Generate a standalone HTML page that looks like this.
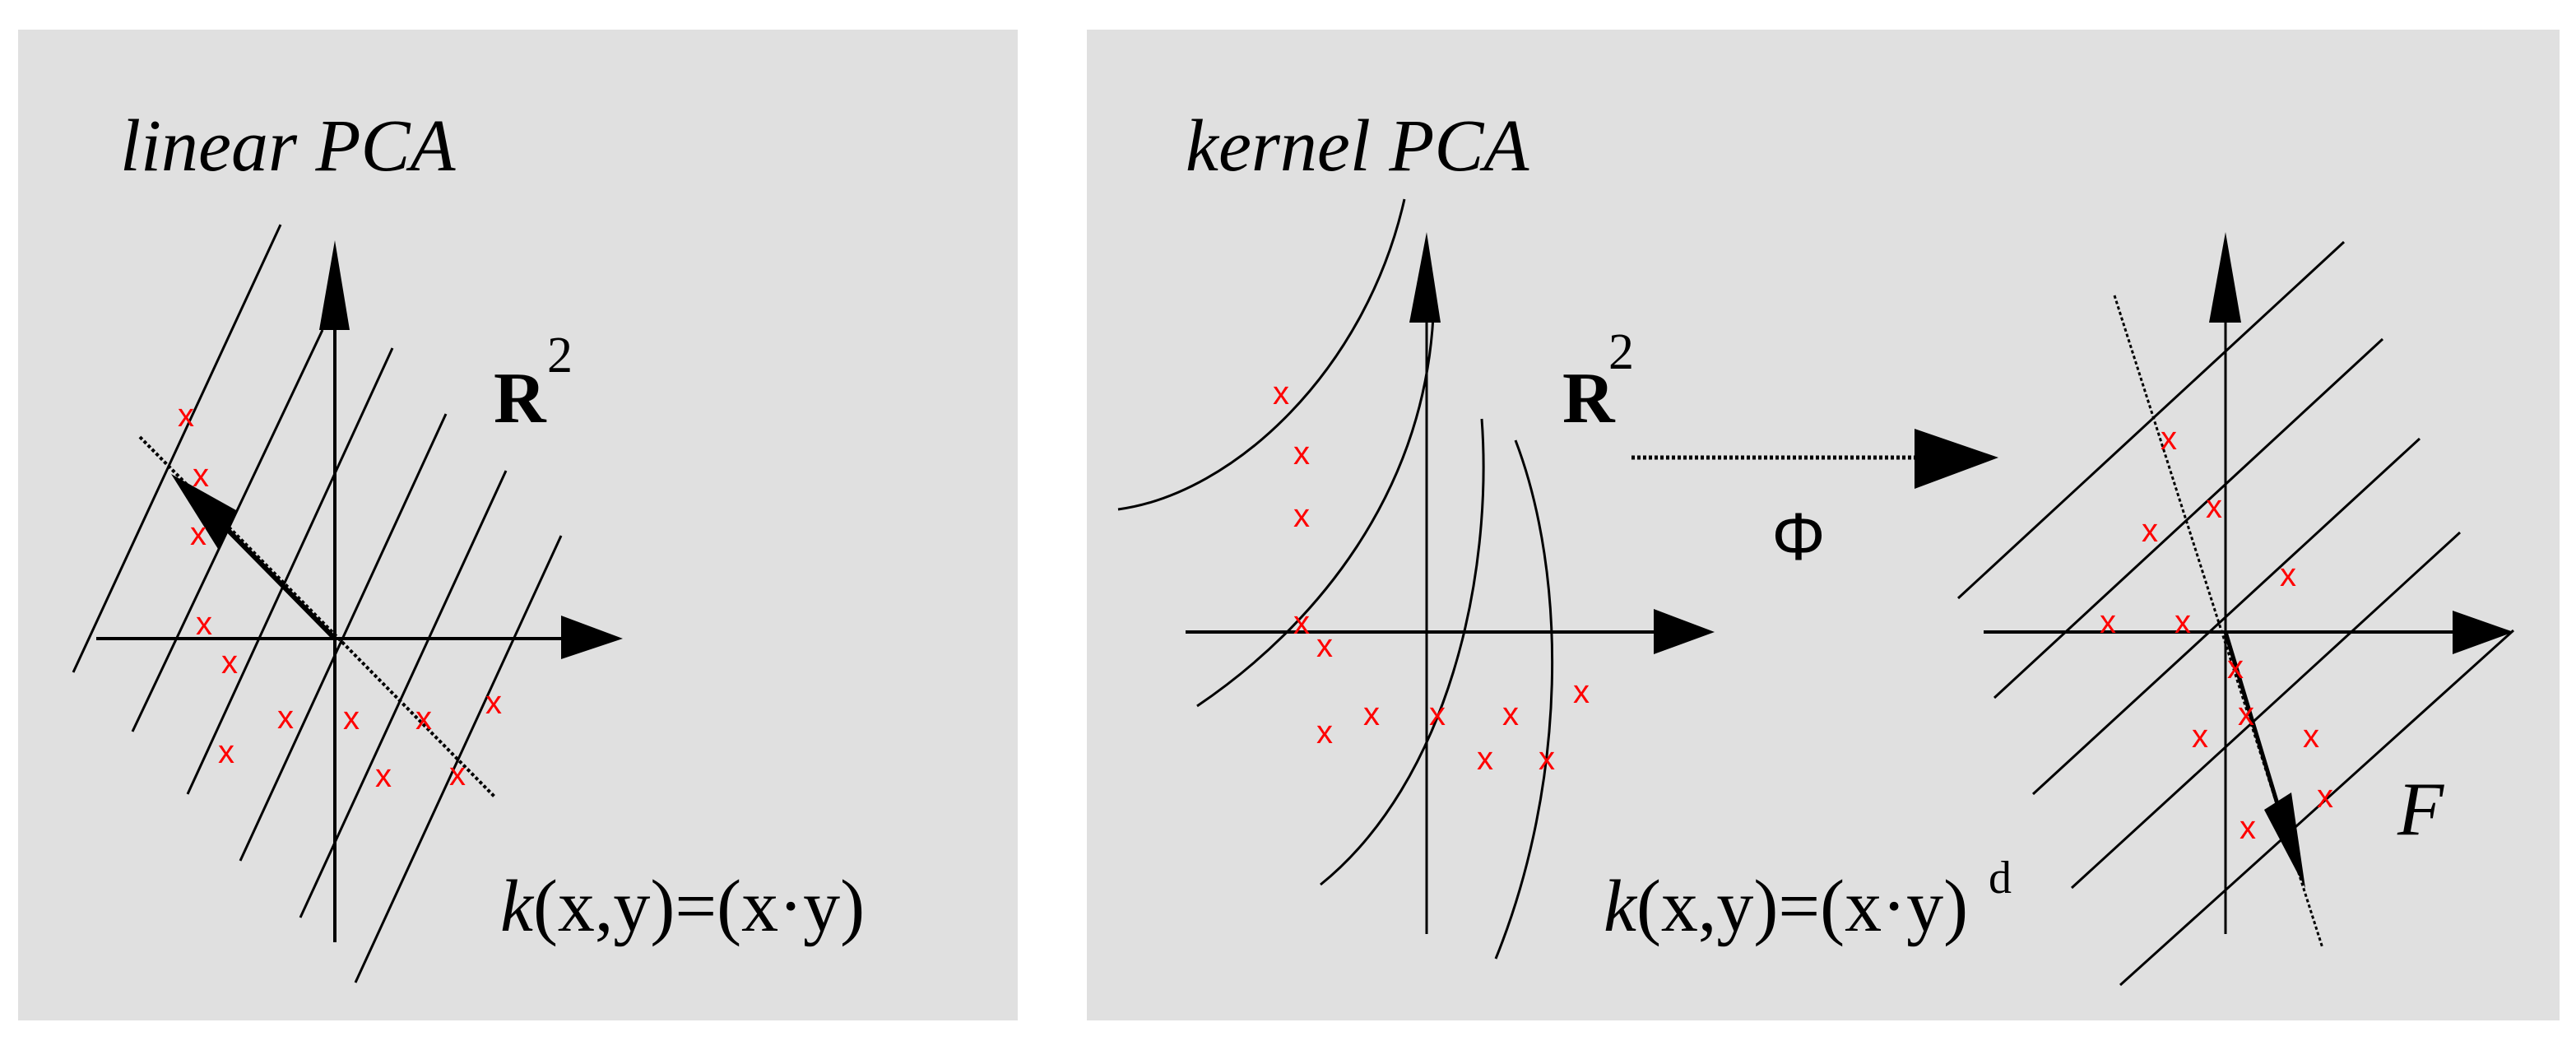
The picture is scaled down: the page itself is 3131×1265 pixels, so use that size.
<!DOCTYPE html>
<html><head><meta charset="utf-8"><style>html,body{margin:0;padding:0;background:#fff}svg{display:block}</style></head>
<body>
<svg width="3131" height="1265" viewBox="0 0 3131 1265" xmlns="http://www.w3.org/2000/svg">
<rect width="3131" height="1265" fill="#fff"/>
<rect x="22" y="36" width="1215" height="1204" fill="#e0e0e0"/>
<rect x="1321" y="36" width="1790" height="1204" fill="#e0e0e0"/>

<g font-family="Liberation Serif, serif" fill="#000">
<text x="146" y="207" font-size="90" font-style="italic">linear PCA</text>
<text x="1441" y="207" font-size="90" font-style="italic">kernel PCA</text>
<text x="600" y="513" font-size="88" font-weight="bold">R</text>
<text x="665" y="452" font-size="62">2</text>
<text x="1899" y="513" font-size="88" font-weight="bold">R</text>
<text x="1955" y="448" font-size="62">2</text>
<text x="608" y="1131" font-size="90"><tspan font-style="italic">k</tspan>(x,y)=(x·y)</text>
<text x="1949" y="1131" font-size="90"><tspan font-style="italic">k</tspan>(x,y)=(x·y)</text>
<text x="2417" y="1085" font-size="56">d</text>
<text x="2914" y="1014" font-size="92" font-style="italic">F</text>
</g>
<text x="2186" y="680" font-size="82" text-anchor="middle" font-family="Liberation Sans, sans-serif">Φ</text>

<g stroke="#000" fill="none" stroke-width="3">
<line x1="89" y1="817" x2="341" y2="273"/>
<line x1="161" y1="889" x2="392" y2="401"/>
<line x1="228" y1="965" x2="477" y2="423"/>
<line x1="292" y1="1046" x2="542" y2="503"/>
<line x1="365" y1="1115" x2="615" y2="572"/>
<line x1="432" y1="1194" x2="682" y2="651"/>
<line x1="407" y1="1145" x2="407" y2="400" stroke-width="4"/>
<line x1="117" y1="776" x2="685" y2="776" stroke-width="4"/>
<line x1="170" y1="531" x2="602" y2="969" stroke-dasharray="4 3" stroke-width="4"/>
<line x1="407" y1="776" x2="270" y2="637" stroke-width="6"/>
<path d="M1359,619 C1500,600 1660,450 1707,242"/>
<path d="M1455,858 C1600,760 1730,600 1742,385"/>
<path d="M1801,509 C1815,700 1760,950 1605,1075"/>
<path d="M1842,535 C1905,700 1905,950 1818,1165"/>
<line x1="1734" y1="1135" x2="1734" y2="390" stroke-width="3"/>
<line x1="1441" y1="768" x2="2012" y2="768" stroke-width="4"/>
<line x1="1983" y1="556" x2="2330" y2="556" stroke-dasharray="4 3" stroke-width="5"/>
<line x1="2380" y1="727" x2="2849" y2="294"/>
<line x1="2424" y1="848" x2="2896" y2="412"/>
<line x1="2471" y1="965" x2="2941" y2="533"/>
<line x1="2518" y1="1079" x2="2990" y2="647"/>
<line x1="2577" y1="1197" x2="3055" y2="766"/>
<line x1="2705" y1="1135" x2="2705" y2="390" stroke-width="3"/>
<line x1="2411" y1="768" x2="2985" y2="768" stroke-width="4"/>
<line x1="2570" y1="359" x2="2823" y2="1152" stroke-dasharray="4 3"/>
<line x1="2705" y1="768" x2="2772" y2="990" stroke-width="5"/>
</g>
<g fill="#000">
<polygon points="407,292 388,401 425,401"/>
<polygon points="757,776 682,748 682,801"/>
<polygon points="208,576 287,620 265,667"/>
<polygon points="1734,282 1713,392 1751,392"/>
<polygon points="2084,768 2010,740 2010,795"/>
<polygon points="2429,556 2327,521 2327,594"/>
<polygon points="2705,282 2685,392 2724,392"/>
<polygon points="3055,768 2981,742 2981,795"/>
<polygon points="2802,1079 2752,984 2785,963"/>
</g>
<g fill="#f00" font-family="Liberation Sans, sans-serif" font-size="40" text-anchor="middle" dominant-baseline="central">
<text x="226" y="505">x</text><text x="244" y="578">x</text><text x="241" y="649">x</text>
<text x="248" y="758">x</text><text x="279" y="805">x</text><text x="347" y="872">x</text>
<text x="275" y="914">x</text><text x="427" y="873">x</text><text x="466" y="943">x</text>
<text x="515" y="873">x</text><text x="556" y="941">x</text><text x="600" y="854">x</text>

<text x="1557" y="478">x</text><text x="1582" y="551">x</text><text x="1582" y="627">x</text>
<text x="1582" y="757">x</text><text x="1610" y="785">x</text><text x="1610" y="890">x</text>
<text x="1667" y="868">x</text><text x="1747" y="868">x</text><text x="1836" y="868">x</text>
<text x="1805" y="922">x</text><text x="1880" y="922">x</text><text x="1922" y="841">x</text>

<text x="2636" y="533">x</text><text x="2691" y="616">x</text><text x="2613" y="645">x</text>
<text x="2781" y="699">x</text><text x="2562" y="756">x</text><text x="2653" y="756">x</text>
<text x="2717" y="811">x</text><text x="2730" y="868">x</text><text x="2674" y="895">x</text>
<text x="2809" y="895">x</text><text x="2826" y="968">x</text><text x="2732" y="1006">x</text>
</g>
</svg>
</body></html>
